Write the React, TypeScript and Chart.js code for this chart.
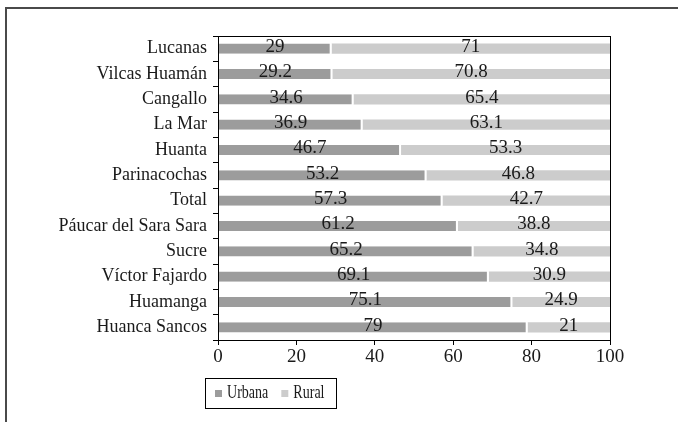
import React, { useEffect, useRef } from 'react';
import { Chart, registerables } from 'chart.js';

Chart.register(...registerables);

const categories = [
  'Lucanas',
  'Vilcas Huamán',
  'Cangallo',
  'La Mar',
  'Huanta',
  'Parinacochas',
  'Total',
  'Páucar del Sara Sara',
  'Sucre',
  'Víctor Fajardo',
  'Huamanga',
  'Huanca Sancos',
];
const urbana = [29, 29.2, 34.6, 36.9, 46.7, 53.2, 57.3, 61.2, 65.2, 69.1, 75.1, 79];
const rural = [71, 70.8, 65.4, 63.1, 53.3, 46.8, 42.7, 38.8, 34.8, 30.9, 24.9, 21];
const seriesNames = ['Urbana', 'Rural'];
const xTickValues = [0, 20, 40, 60, 80, 100];

const FONT = '"Liberation Serif", "Times New Roman", serif';

const framePlugin = {
  id: 'frame',
  beforeDraw(chart: any) {
    const ctx = chart.ctx;
    ctx.save();
    ctx.fillStyle = '#ffffff';
    ctx.fillRect(0, 0, chart.width, chart.height);
    ctx.strokeStyle = '#4a4a4a';
    ctx.lineWidth = 2;
    ctx.beginPath();
    ctx.moveTo(6, 8);
    ctx.lineTo(chart.width, 8);
    ctx.moveTo(6, 7);
    ctx.lineTo(6, chart.height);
    ctx.stroke();
    ctx.restore();
  },
  afterDraw(chart: any) {
    const ctx = chart.ctx;
    const a = chart.chartArea;
    ctx.save();
    ctx.strokeStyle = '#000';
    ctx.lineWidth = 1;
    ctx.strokeRect(Math.round(a.left) + 0.5, Math.round(a.top) + 0.5, Math.round(a.right - a.left), Math.round(a.bottom - a.top));
    ctx.restore();
  },
};

const valueLabelPlugin = {
  id: 'valueLabels',
  afterDatasetsDraw(chart: any) {
    const ctx = chart.ctx;
    ctx.save();
    ctx.font = `19px ${FONT}`;
    ctx.fillStyle = '#1a1a1a';
    ctx.textAlign = 'center';
    ctx.textBaseline = 'middle';
    chart.data.datasets.forEach((ds: any, di: number) => {
      const meta = chart.getDatasetMeta(di);
      meta.data.forEach((el: any, i: number) => {
        const v = ds.data[i];
        const cx = (el.x + el.base) / 2;
        ctx.fillText(String(v), cx, el.y - 1.5);
      });
    });
    ctx.restore();
  },
};

const boxedLegendPlugin = {
  id: 'boxedLegend',
  afterDraw(chart: any) {
    const ctx = chart.ctx;
    ctx.save();
    ctx.font = `18px ${FONT}`;
    const squeeze = 0.78;
    const padL = 10;
    const padR = 11;
    const marker = 7;
    const gap = 5;
    const itemGap = 13;
    const items = chart.data.datasets.map((ds: any) => ({
      label: ds.label,
      color: ds.backgroundColor,
      w: ctx.measureText(ds.label).width * squeeze,
    }));
    let total = padL + padR;
    items.forEach((it: any, i: number) => {
      total += marker + gap + it.w + (i < items.length - 1 ? itemGap : 0);
    });
    const cx = 270;
    const top = 378;
    const h = 30;
    const left = Math.round(cx - total / 2);
    ctx.strokeStyle = '#000';
    ctx.lineWidth = 1;
    ctx.strokeRect(left + 0.5, top + 0.5, Math.round(total), h);
    let x = left + padL;
    const midY = top + h / 2;
    ctx.textBaseline = 'middle';
    ctx.textAlign = 'left';
    items.forEach((it: any) => {
      ctx.fillStyle = it.color;
      ctx.fillRect(x, Math.round(midY - marker / 2), marker, marker);
      x += marker + gap;
      ctx.fillStyle = '#1a1a1a';
      ctx.save();
      ctx.translate(x, midY);
      ctx.scale(squeeze, 1);
      ctx.fillText(it.label, 0, 0);
      ctx.restore();
      x += it.w + itemGap;
    });
    ctx.restore();
  },
};

export default function App() {
  const canvasRef = useRef<HTMLCanvasElement | null>(null);

  useEffect(() => {
    document.body.style.margin = '0';
    const canvas = canvasRef.current;
    if (!canvas) return;
    const chart = new Chart(canvas, {
      type: 'bar',
      data: {
        labels: categories,
        datasets: [
          {
            label: seriesNames[0],
            data: urbana,
            backgroundColor: '#9c9c9c',
            borderColor: '#ffffff',
            borderWidth: { top: 0, bottom: 0, left: 0, right: 2 },
            borderSkipped: false,
            barPercentage: 0.4,
            categoryPercentage: 1,
          },
          {
            label: seriesNames[1],
            data: rural,
            backgroundColor: '#cccccc',
            borderWidth: 0,
            barPercentage: 0.4,
            categoryPercentage: 1,
          },
        ],
      },
      options: {
        indexAxis: 'y',
        animation: false,
        responsive: false,
        maintainAspectRatio: false,
        devicePixelRatio: 1,
        layout: { padding: { top: 36, right: 68, bottom: 52, left: 0 } },
        plugins: {
          legend: { display: false },
          tooltip: { enabled: false },
          title: { display: false },
        },
        scales: {
          x: {
            stacked: true,
            min: 0,
            max: 100,
            afterBuildTicks(scale: any) {
              scale.ticks = xTickValues.map((v) => ({ value: v }));
            },
            afterFit(scale: any) {
              scale.height = 30;
            },
            grid: {
              drawOnChartArea: false,
              drawTicks: true,
              tickLength: 5,
              color: '#000',
            },
            border: { display: true, color: '#000' },
            ticks: {
              font: { family: FONT, size: 19 },
              color: '#1a1a1a',
              padding: 1,
              maxRotation: 0,
            },
          },
          y: {
            stacked: true,
            afterFit(scale: any) {
              scale.width = 218;
            },
            grid: {
              drawOnChartArea: false,
              drawTicks: true,
              tickLength: 5,
              color: '#000',
              offset: true,
            },
            border: { display: true, color: '#000' },
            ticks: {
              font: { family: FONT, size: 18 },
              color: '#1a1a1a',
              padding: 6,
              autoSkip: false,
            },
          },
        },
      },
      plugins: [framePlugin, valueLabelPlugin, boxedLegendPlugin],
    });
    return () => chart.destroy();
  }, []);

  return (
    <div style={{ width: 678, height: 422 }}>
      <canvas ref={canvasRef} width={678} height={422} style={{ display: 'block', width: 678, height: 422 }} />
    </div>
  );
}
